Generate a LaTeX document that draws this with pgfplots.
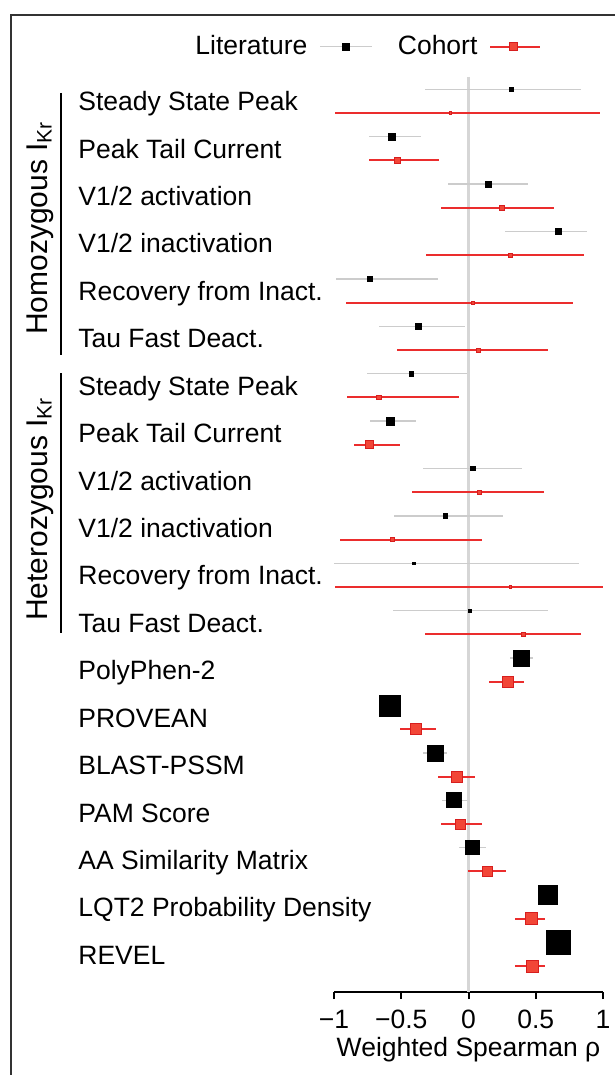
\documentclass[border=0pt]{standalone}
\usepackage{fontspec}
\setmainfont{Liberation Sans}
\usepackage{pgfplots}
\usepackage{pgfplotstable}
\pgfplotsset{compat=1.18}

\definecolor{litgray}{RGB}{204,204,204}
\definecolor{zerogray}{RGB}{214,214,214}
\definecolor{cohline}{RGB}{235,45,45}
\definecolor{cohfill}{RGB}{242,70,55}
\definecolor{cohdraw}{RGB}{215,30,30}
\definecolor{frame}{RGB}{51,51,51}

% y = -row index (row 0 at top); x = estimate, lo/hi = interval, s = marker side (px)
\pgfplotstableread{
y    x       lo      hi      s
0    0.320  -0.325   0.833   3.5
-2  -0.572  -0.738  -0.354   7
-4   0.149  -0.151   0.446   5.5
-6   0.669   0.275   0.882   5.5
-8  -0.734  -0.984  -0.230   4.5
-10 -0.374  -0.664  -0.027   5.5
-12 -0.424  -0.751  -0.010   4.5
-14 -0.585  -0.731  -0.387   8
-16  0.032  -0.337   0.396   4.5
-18 -0.173  -0.555   0.258   4.5
-20 -0.406  -1.000   0.825   2.5
-22  0.012  -0.565   0.590   3
-24  0.392   0.305   0.478   16
-26 -0.585  -0.630  -0.540   21
-28 -0.250  -0.342  -0.159   16
-30 -0.106  -0.196  -0.010   15
-32  0.030  -0.072   0.131   14
-34  0.587   0.550   0.620   19
-36  0.664   0.620   0.710   24
}\lit

\pgfplotstableread{
y    x       lo      hi      s
-1  -0.136  -0.990   0.974   2.5
-3  -0.525  -0.738  -0.218   6
-5   0.250  -0.203   0.632   4.5
-7   0.312  -0.315   0.857   4
-9   0.030  -0.909   0.776   3
-11  0.072  -0.535   0.590   4
-13 -0.667  -0.905  -0.067   4.5
-15 -0.736  -0.855  -0.513   8
-17  0.082  -0.419   0.560   4
-19 -0.568  -0.957   0.097   4
-21  0.312  -0.996   1.000   2.5
-23  0.409  -0.322   0.838   3.5
-25  0.290   0.149   0.409   11
-27 -0.392  -0.511  -0.238   11
-29 -0.087  -0.228   0.052   11
-31 -0.057  -0.206   0.102   10
-33  0.139  -0.002   0.280   10
-35  0.468   0.349   0.567   12
-37  0.473   0.342   0.567   12
}\coh

\begin{document}
\fontsize{13.25pt}{16pt}\selectfont
\begin{tikzpicture}
\path[use as bounding box] (0,0) rectangle (307.5pt,-537.5pt);
\draw[frame, line width=1pt] (5.5pt,-537.5pt) -- (5.5pt,-7.5pt) -- (307.5pt,-7.5pt);

% category labels
\foreach \name [count=\i from 0] in {Steady State Peak, Peak Tail Current, V1/2 activation, V1/2 inactivation, Recovery from Inact., Tau Fast Deact., Steady State Peak, Peak Tail Current, V1/2 activation, V1/2 inactivation, Recovery from Inact., Tau Fast Deact., PolyPhen-2, PROVEAN, BLAST-PSSM, PAM Score, AA Similarity Matrix, LQT2 Probability Density, REVEL}
  \node[anchor=base west, inner sep=0pt] at (39pt, {-(55.35+23.71*\i)*1pt}) {\name};

% group brackets
\draw[line width=0.75pt] (30.5pt,-46.5pt) -- (30.5pt,-177.5pt);
\draw[line width=0.75pt] (30.5pt,-186.5pt) -- (30.5pt,-316.5pt);
\node[rotate=90, inner sep=0pt, font=\fontsize{15pt}{18pt}\selectfont] at (20pt,-114pt) {Homozygous I\textsubscript{Kr}};
\node[rotate=90, inner sep=0pt, font=\fontsize{15pt}{18pt}\selectfont] at (20pt,-254.5pt) {Heterozygous I\textsubscript{Kr}};

\begin{axis}[
  at={(167pt,-496pt)}, anchor=south west,
  scale only axis, width=134.5pt, height=457.5pt,
  xmin=-1, xmax=1, ymin=-38.09, ymax=0.52,
  axis x line*=bottom, axis y line=none,
  axis line style={line width=1pt, black},
  xtick={-1,-0.5,0,0.5,1},
  xticklabels={−1,−0.5,0,0.5,1},
  xtick align=outside, major tick length=3.5pt,
  xtick style={line width=1pt, black},
  xticklabel style={anchor=base, yshift=-14.5pt},
  ytick=\empty,
  xlabel={Weighted Spearman ρ},
  xlabel style={at={(axis description cs:0.5,0)}, anchor=base, yshift=-32.3pt},
  clip=false,
  legend plot pos=right,
  legend columns=2,
  legend style={draw=none, fill=none, at={(axis description cs:0.128,1.0331)}, anchor=center,
    nodes={inner xsep=0pt},
    /tikz/every odd column/.append style={column sep=6pt},
    /tikz/every even column/.append style={column sep=12.5pt}},
]
\addlegendimage{legend image code/.code={
  \draw[litgray, line width=0.75pt] (0pt,0pt) -- (26pt,0pt);
  \fill[black] (11pt,-1.75pt) rectangle (14.5pt,1.75pt);}}
\addlegendentry{Literature}
\addlegendimage{legend image code/.code={
  \draw[cohline, line width=1pt] (0pt,0pt) -- (25pt,0pt);
  \filldraw[fill=cohfill, draw=cohdraw, line width=0.4pt] (9.5pt,-2pt) rectangle (13.5pt,2pt);}}
\addlegendentry{Cohort}

\addplot[zerogray, line width=1.5pt, forget plot] coordinates {(0,0.52) (0,-38.09)};

\addplot[draw=none, mark=none, forget plot,
  error bars/.cd, x dir=both, x explicit, error mark=none,
  error bar style={draw=litgray, line width=0.75pt}]
  table[x=x, y=y, x error plus expr=\thisrow{hi}-\thisrow{x}, x error minus expr=\thisrow{x}-\thisrow{lo}] {\lit};
\addplot[draw=none, mark=none, forget plot,
  error bars/.cd, x dir=both, x explicit, error mark=none,
  error bar style={draw=cohline, line width=1pt}]
  table[x=x, y=y, x error plus expr=\thisrow{hi}-\thisrow{x}, x error minus expr=\thisrow{x}-\thisrow{lo}] {\coh};

\addplot[scatter, only marks, mark=square*, forget plot,
  scatter/use mapped color={draw=black, fill=black},
  mark options={line width=0.3pt},
  visualization depends on={\thisrow{s}/4 \as \ms},
  scatter/@pre marker code/.append style={/tikz/mark size=\ms}]
  table[x=x, y=y] {\lit};
\addplot[scatter, only marks, mark=square*, forget plot,
  scatter/use mapped color={draw=cohdraw, fill=cohfill},
  mark options={line width=0.4pt},
  visualization depends on={\thisrow{s}/4 \as \ms},
  scatter/@pre marker code/.append style={/tikz/mark size=\ms}]
  table[x=x, y=y] {\coh};
\end{axis}
\end{tikzpicture}
\end{document}
